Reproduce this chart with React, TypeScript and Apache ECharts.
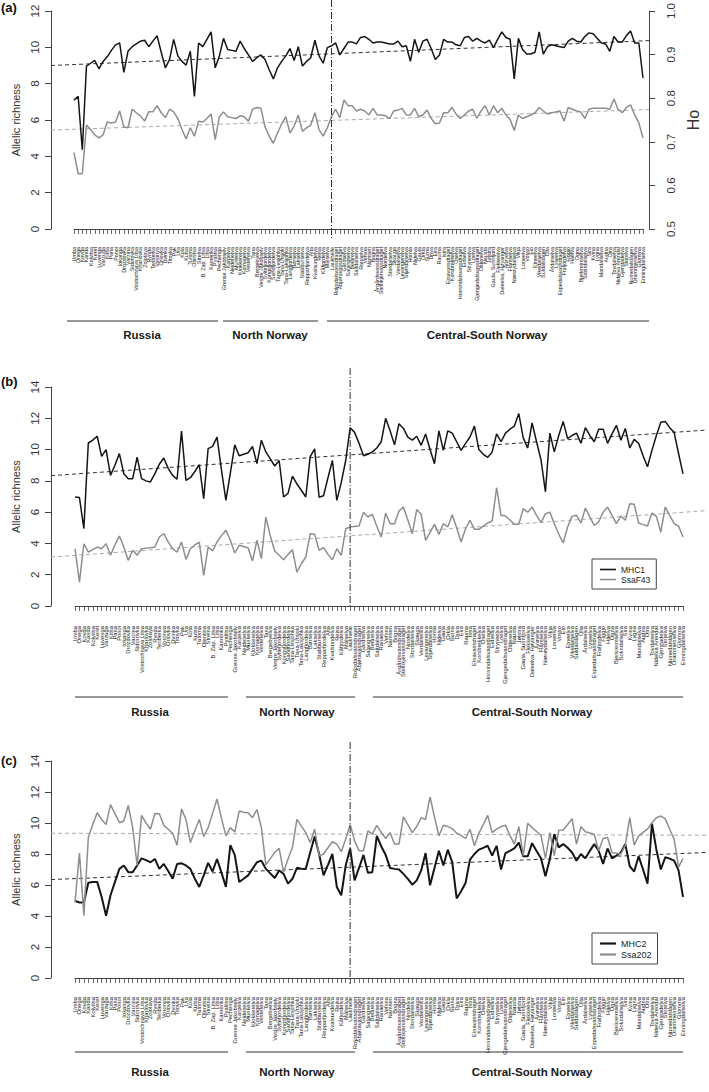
import React, { useEffect, useRef } from "react";
import * as echarts from "echarts";

const russia = ["Umba","Onega","Kovda","Kanda","Kolvitsa","Keret","Luvenga","Varzuga","Kitsa","Pana","Ponoi","Iokanga","Drozdovka","Varzina","Sidorovka","Vostochnaya Litsa","Kharlovka","Zolotaya","Rynda","Teriberka","Voronya","Orlovka","Dvinka","Titovka","Pak","Ura","Kola","Kutsa","Tuloma","Olenitsa","Strelna","B. Zap. Litsa","Litsa","Kamenka","Pyalitsa","Pechenga"];
const northNorway = ["Grense Jakobselv","Karpelva","Neidenelva","Munkelva","Klokkerelva","Komagelva","Vesterelva","Tana","Bergebyelva","Vestre Jakobselv","Syltefjordelva","Kongsfjordelva","Sandfjordelva","Tana-Lesjohka","Tana-Utsjoki","Tana-Laksjohka","Langfjordelva","Børselva","Lakselva","Stabburselva","Repparfjordelva","Alta","Kvalsundelva","Reisa","Kåfjordelva","Målselva","Laukhelle"];
const centralSouthNorway = ["Roksdalsvassdraget","Åbjøravassdraget","Gårdselva","Salangselva","Beiarelva","Saltdalselva","Ranaelva","Vefsna","Namsen","Bogna","Årgårdsvassdraget","Steinkjervassdraget","Nordelva","Stordalselva","Skauga","Verdalselva","Levangerelva","Stjørdalselva","Homla","Nidelva","Gaula","Orkla","Surna","Driva","Eira","Rauma","Istra","Einavassdraget","Korsbrekkelva","Oselva","Hornindalsvassdraget","Eidselva","Stryneelva","Loelva","Gjengedalsvassdraget","Oldenelva","Nausta","Jølstra","Gaula, Sunnfjord","Flekkeelva","Daleelva, Høyanger","Årøyelva","Flåmselva","Nærøydalselva","Vikja","Loneelva","Vosso","Eio","Etneelva","Vikedalselva","Suldalslågen","Ulla","Årdalselva","Lyseelva","Espedalsvassdraget","Frafjordelva","Figgjo","Håelva","Ogna","Bjerkreimselva","Sokndalselva","Sira","Kvina","Lygna","Mandalselva","Audna","Otra","Tovdalselva","Nidelva Arendal","Gjerstadelva","Storelva","Numedalslågen","Drammenselva","Glomma","Enningdalselva"];
const rivers = [...russia, ...northNorway, ...centralSouthNorway];

// Panel (a)
const allelicRichnessA = [7.0,7.2,4.3,8.85,9.0,9.15,8.7,9.1,9.35,9.7,10.0,10.1,8.5,9.65,9.9,10.05,10.2,10.25,9.9,10.2,10.5,9.6,8.75,9.2,10.3,9.4,9.1,8.9,9.65,7.2,10.1,9.9,10.3,10.7,8.75,9.4,10.35,9.75,9.7,9.65,10.2,9.8,9.45,9.1,9.3,9.45,9.2,8.65,8.15,8.75,9.1,9.4,9.8,9.15,9.9,8.85,9.1,9.3,10.25,9.4,9.0,9.85,9.95,10.1,9.45,9.8,10.15,10.15,10.05,
  10.4,10.45,10.3,10.1,10.15,10.15,10.1,10.05,10.05,10.2,9.9,9.95,9.1,10.3,9.6,10.2,10.3,9.8,9.2,9.45,10.3,10.15,10.15,10.0,9.95,10.4,10.45,10.2,10.35,10.2,10.1,10.25,9.85,10.3,10.7,10.4,10.3,8.15,10.35,9.75,9.5,9.5,9.6,10.7,9.5,9.9,10.0,9.95,9.9,9.85,10.2,10.35,10.2,10.15,10.45,10.65,10.6,10.35,10.1,10.05,9.65,10.45,10.15,10.15,10.5,10.75,10.1,10.1,8.2];
const hoA = [0.673,0.625,0.625,0.735,0.725,0.713,0.706,0.713,0.742,0.740,0.742,0.767,0.731,0.729,0.771,0.763,0.756,0.744,0.765,0.765,0.779,0.763,0.752,0.771,0.765,0.750,0.725,0.704,0.729,0.710,0.744,0.742,0.750,0.760,0.702,0.754,0.765,0.754,0.752,0.750,0.756,0.754,0.744,0.771,0.775,0.773,0.731,0.710,0.694,0.717,0.738,0.754,0.717,0.733,0.758,0.721,0.729,0.735,0.763,0.725,0.710,0.729,0.754,0.771,0.752,0.792,0.779,0.779,0.767,
  0.771,0.767,0.758,0.773,0.758,0.758,0.756,0.750,0.767,0.769,0.773,0.758,0.758,0.773,0.754,0.758,0.769,0.750,0.738,0.740,0.763,0.763,0.775,0.760,0.750,0.758,0.767,0.771,0.750,0.767,0.779,0.758,0.779,0.763,0.773,0.758,0.748,0.723,0.758,0.750,0.754,0.758,0.763,0.775,0.767,0.760,0.763,0.765,0.767,0.744,0.775,0.771,0.767,0.765,0.750,0.771,0.773,0.773,0.773,0.773,0.771,0.794,0.771,0.763,0.775,0.781,0.758,0.740,0.706];
const trendAllelicA = [9.0, 10.37];
const trendHoA = [0.727, 0.774];

// Panel (b)
const mhc1 = [6.97,6.93,4.95,10.42,10.6,10.85,9.57,10.0,8.35,9.0,9.74,8.46,8.14,8.14,9.52,8.14,8.0,7.93,8.46,9.06,9.46,8.8,8.35,8.1,11.19,8.03,8.2,8.6,9.03,6.86,10.06,10.2,10.8,8.7,6.75,8.5,10.3,9.6,9.7,9.8,10.2,9.1,10.6,9.85,9.4,8.95,9.3,6.97,7.2,8.3,7.8,7.4,6.97,9.55,10.05,6.95,7.05,8.2,9.3,6.75,7.9,9.3,11.4,11.1,10.4,
  9.6,9.7,9.85,10.1,10.5,12.0,11.2,10.3,11.65,11.35,10.8,10.6,10.85,10.27,11.0,10.0,9.1,11.2,9.95,11.2,11.05,10.5,9.95,10.4,10.8,11.5,10.0,9.7,9.5,9.85,11.0,10.5,11.05,11.3,11.5,12.3,10.75,10.1,11.7,10.5,9.35,7.3,11.05,9.85,10.9,11.8,10.7,10.9,11.05,10.4,11.4,10.9,10.5,11.3,11.3,10.4,11.0,11.55,10.6,11.35,10.1,10.65,10.4,9.6,8.9,9.95,10.9,11.75,11.8,11.4,11.1,9.75,8.45];
const ssaF43 = [3.66,1.53,3.98,3.45,3.6,3.77,3.66,3.98,3.24,3.9,4.47,3.77,2.92,3.56,3.24,3.66,3.7,3.73,3.77,4.41,4.62,4.1,3.66,3.45,4.09,2.98,3.66,3.9,4.09,1.96,3.77,3.52,4.09,4.5,4.84,4.2,3.39,3.88,3.8,3.73,2.88,4.2,3.03,5.69,4.5,3.52,3.24,2.96,3.3,3.6,2.17,2.7,3.13,4.62,4.58,3.56,3.73,3.3,2.96,3.66,3.24,4.94,5.05,5.09,5.11,
  6.0,5.69,5.86,5.1,4.41,5.94,5.26,5.26,6.07,6.33,5.5,4.62,6.16,5.86,4.2,4.7,5.22,4.58,5.26,5.05,5.84,5.0,4.09,4.94,5.48,4.9,4.9,5.1,5.31,5.43,7.56,5.8,5.75,5.5,5.22,5.22,6.22,6.0,6.33,5.8,5.33,5.9,6.0,5.26,4.6,4.03,5.05,5.73,5.8,5.31,6.26,5.7,5.16,5.37,6.0,6.33,5.8,5.26,5.75,5.48,6.54,6.5,5.31,5.2,5.11,5.94,5.73,4.73,6.33,5.8,5.26,5.11,4.41];
const trendMhc1 = [8.33, 11.25];
const trendSsaF43 = [3.13, 6.1];

// Panel (c)
const mhc2 = [4.98,4.87,4.87,6.15,6.2,6.2,5.23,4.02,5.34,6.2,7.04,7.26,6.83,6.83,7.26,7.72,7.6,7.47,7.68,7.04,7.36,6.9,6.4,7.36,7.4,7.26,7.04,6.4,5.87,6.62,7.43,6.87,7.68,6.8,5.87,8.57,7.94,6.19,6.4,6.62,7.04,7.47,7.57,7.04,6.75,6.45,6.94,6.72,6.09,6.4,7.11,7.05,7.04,8.1,9.13,8.0,6.62,7.3,8.0,5.87,5.34,7.26,8.36,6.3,
  7.1,7.94,6.79,6.83,9.17,8.5,7.94,7.09,7.04,7.0,6.72,6.4,6.02,6.3,6.94,8.06,5.98,7.1,8.21,7.26,8.28,7.47,5.13,5.6,6.13,7.64,8.0,8.28,8.4,8.53,7.89,8.53,7.0,8.06,8.2,8.36,8.74,7.85,7.85,8.7,8.2,7.72,6.57,7.68,9.28,8.43,8.64,8.4,8.1,7.57,8.0,7.72,8.2,8.64,8.21,7.36,8.36,7.72,7.9,8.1,8.64,7.21,6.87,7.85,7.0,6.09,9.96,8.28,7.0,7.79,7.7,7.57,6.94,5.23];
const ssa202 = [4.87,8.06,4.02,9.06,9.9,10.66,10.23,9.91,11.19,10.6,10.02,10.13,11.13,9.7,7.26,10.49,10.0,9.6,10.62,10.6,9.85,9.6,9.34,8.57,10.91,10.23,8.74,9.5,10.23,9.13,9.7,10.62,11.55,10.3,9.17,9.7,9.43,10.77,10.7,10.66,10.34,10.87,9.7,7.3,7.7,8.1,8.36,6.83,7.68,8.43,10.23,9.8,9.38,8.74,9.6,7.89,8.0,8.4,8.79,8.64,8.15,8.96,9.91,8.85,
  8.21,8.21,9.49,9.28,9.85,9.4,9.0,9.38,8.64,8.64,10.4,9.9,9.38,9.77,10.34,10.23,11.68,10.4,9.17,9.85,9.77,9.64,9.34,9.2,9.0,9.6,8.53,9.34,9.9,10.49,9.38,9.6,9.77,9.85,9.2,8.64,9.77,7.89,9.98,9.7,9.45,9.21,7.72,9.38,7.89,9.53,9.55,9.9,10.28,8.64,9.77,9.43,9.35,9.28,8.21,9.0,9.06,8.1,8.05,8.0,8.57,10.34,8.57,9.17,9.4,9.6,10.02,10.34,10.45,10.28,9.6,8.96,7.15,7.72];
const trendMhc2 = [6.35, 8.1];
const trendSsa202 = [9.34, 9.21];

const splitIndex = 62;

const FONT = "'Liberation Sans', Arial, Helvetica, sans-serif";
const NARROW = "'Liberation Sans Narrow', 'Liberation Sans', Arial, sans-serif";
const AX = "#444";
const BLACK = "#151515";
const GRAY = "#8e8e8e";

export default function App() {
  const ref = useRef<HTMLDivElement>(null);
  useEffect(() => {
    if (!ref.current) return;
    const chart = echarts.init(ref.current, null, { renderer: "svg" });

    const panels = [
      { top: 8, height: 221, aLeft: 74, aRight: 66, bLeft: 51, bRight: 43, ymax: 12, labelSize: 5.4, labelMargin: 10 },
      { top: 387, height: 219, aLeft: 75, aRight: 26, bLeft: 51, bRight: 2, ymax: 14, labelSize: 5.8, labelMargin: 12 },
      { top: 761, height: 217, aLeft: 75, aRight: 26, bLeft: 51, bRight: 2, ymax: 14, labelSize: 5.8, labelMargin: 11 },
    ];

    const grid: any[] = [];
    const xAxis: any[] = [];
    panels.forEach((p, k) => {
      grid.push({ left: p.aLeft, right: p.aRight, top: p.top, height: p.height });
      grid.push({ left: p.bLeft, right: p.bRight, top: p.top, height: p.height });
      xAxis.push({
        type: "category", gridIndex: 2 * k, data: rivers, boundaryGap: false, offset: 8,
        axisLine: { show: true, lineStyle: { color: AX, width: 1 } },
        axisTick: { show: true, interval: 0, length: 5, lineStyle: { color: AX, width: 0.8 } },
        axisLabel: { interval: 0, rotate: 90, fontSize: p.labelSize, margin: p.labelMargin, color: "#222", fontFamily: FONT },
        splitLine: { show: false },
      });
      xAxis.push({ type: "value", gridIndex: 2 * k + 1, min: 0, max: 1, show: false });
    });

    const visY = (gridIndex: number, max: number) => ({
      type: "value", gridIndex, min: 0, max, interval: 2, position: "left",
      axisLine: { show: true, lineStyle: { color: AX, width: 1 } },
      axisTick: { show: true, length: 6, lineStyle: { color: AX } },
      axisLabel: { rotate: 90, margin: 10, fontSize: 11.5, color: "#333", fontFamily: FONT },
      splitLine: { show: false },
      name: "Allelic richness", nameLocation: "middle", nameGap: 25, nameRotate: 90,
      nameTextStyle: { fontSize: 11, color: "#333", fontFamily: FONT },
    });
    const hidY = (gridIndex: number, min: number, max: number) => ({ type: "value", gridIndex, min, max, show: false });

    const yAxis: any[] = [
      hidY(0, 0, 12),
      hidY(0, 0.5, 1.0),
      visY(1, 12),
      {
        type: "value", gridIndex: 1, min: 0.5, max: 1.0, interval: 0.1, position: "right",
        axisLine: { show: true, lineStyle: { color: AX, width: 1 } },
        axisTick: { show: true, length: 6, lineStyle: { color: AX } },
        axisLabel: { rotate: 90, margin: 16, fontSize: 11.5, color: "#333", fontFamily: FONT, formatter: (v: number) => v.toFixed(1) },
        splitLine: { show: false },
        name: "Ho", nameLocation: "middle", nameGap: 32, nameRotate: 90,
        nameTextStyle: { fontSize: 16, color: "#333", fontFamily: FONT },
      },
      hidY(2, 0, 14),
      visY(3, 14),
      hidY(4, 0, 14),
      visY(5, 14),
    ];

    const line = (name: string, data: number[], xi: number, yi: number, color: string, width: number) => ({
      name, type: "line", xAxisIndex: xi, yAxisIndex: yi, data, symbol: "none", showSymbol: false,
      lineStyle: { color, width }, itemStyle: { color }, z: 3, silent: true,
    });
    const trend = (name: string, vals: number[], xi: number, yi: number, color: string) => ({
      name, type: "line", xAxisIndex: xi, yAxisIndex: yi, data: vals.map((v, k) => [k, v]),
      symbol: "none", showSymbol: false, lineStyle: { color, width: 1, type: [4, 3] }, z: 2, silent: true,
    });

    const series: any[] = [
      line("Allelic richness", allelicRichnessA, 0, 0, BLACK, 1.5),
      line("Ho", hoA, 0, 1, GRAY, 1.5),
      trend("trendA1", trendAllelicA, 1, 2, "#333"),
      trend("trendA2", trendHoA, 1, 3, "#aaa"),
      line("MHC1", mhc1, 2, 4, BLACK, 1.5),
      line("SsaF43", ssaF43, 2, 4, GRAY, 1.5),
      trend("trendB1", trendMhc1, 3, 5, "#333"),
      trend("trendB2", trendSsaF43, 3, 5, "#aaa"),
      line("MHC2", mhc2, 4, 6, BLACK, 2),
      line("Ssa202", ssa202, 4, 6, GRAY, 1.5),
      trend("trendC1", trendMhc2, 5, 7, "#333"),
      trend("trendC2", trendSsa202, 5, 7, "#aaa"),
    ];

    const legendBase = {
      orient: "vertical", borderColor: "#444", borderWidth: 1, backgroundColor: "#fff",
      icon: "rect", itemWidth: 16, itemHeight: 1.6, selectedMode: false,
      textStyle: { fontSize: 8.5, color: "#222", fontFamily: FONT },
    };

    chart.setOption({
      animation: false,
      grid, xAxis, yAxis, series,
      legend: [
        { ...legendBase, data: ["MHC1", "SsaF43"], left: 592, top: 559, padding: [6, 6, 5, 8], itemGap: 1 },
        { ...legendBase, data: ["MHC2", "Ssa202"], left: 592, top: 933, padding: [6, 6, 5, 8], itemGap: 2, itemHeight: 2.2, textStyle: { fontSize: 9, color: "#222", fontFamily: FONT } },
      ],
    });

    const sx = [0, 2, 4].map((ax) => chart.convertToPixel({ xAxisIndex: ax } as any, splitIndex) as number);
    const dashSpans = [[0, 238], [368, 608], [742, 984]];

    const regions = [
      { y: 321, ty: 335, segs: [[67, 218, 142], [223, 318, 270], [327, 649, 487]] },
      { y: 697, ty: 712, segs: [[75, 228, 150], [246, 355, 297], [373, 683, 532]] },
      { y: 1052, ty: 1072, segs: [[75, 228, 150], [246, 355, 297], [373, 683, 532]] },
    ];
    const regionNames = ["Russia", "North Norway", "Central-South Norway"];
    const panelTags = [["(a)", 1], ["(b)", 375], ["(c)", 754]];

    const graphic: any[] = [];
    sx.forEach((x, k) => {
      graphic.push({
        type: "line", silent: true, z: 10,
        shape: { x1: x, y1: dashSpans[k][0], x2: x, y2: dashSpans[k][1] },
        style: { stroke: "#333", lineWidth: 1, lineDash: [7, 2, 1, 2] },
      });
    });
    regions.forEach((r) => {
      r.segs.forEach((s, j) => {
        graphic.push({ type: "line", silent: true, shape: { x1: s[0], y1: r.y, x2: s[1], y2: r.y }, style: { stroke: "#333", lineWidth: 1 } });
        graphic.push({
          type: "text", silent: true, x: s[2], y: r.ty,
          style: { text: regionNames[j], fill: "#1a1a1a", fontSize: 11.5, fontWeight: "bold", fontFamily: NARROW, align: "center", verticalAlign: "middle", textAlign: "center", textVerticalAlign: "middle" },
        });
      });
    });
    panelTags.forEach(([t, y]) => {
      graphic.push({
        type: "text", silent: true, x: 1, y: y as number,
        style: { text: t as string, fill: "#111", fontSize: 13, fontWeight: "bold", fontFamily: FONT, align: "left", verticalAlign: "top", textAlign: "left", textVerticalAlign: "top" },
      });
    });

    chart.setOption({ graphic });

    return () => chart.dispose();
  }, []);

  return <div ref={ref} style={{ position: "absolute", left: 0, top: 0, width: 709, height: 1092, background: "#fff" }} />;
}
